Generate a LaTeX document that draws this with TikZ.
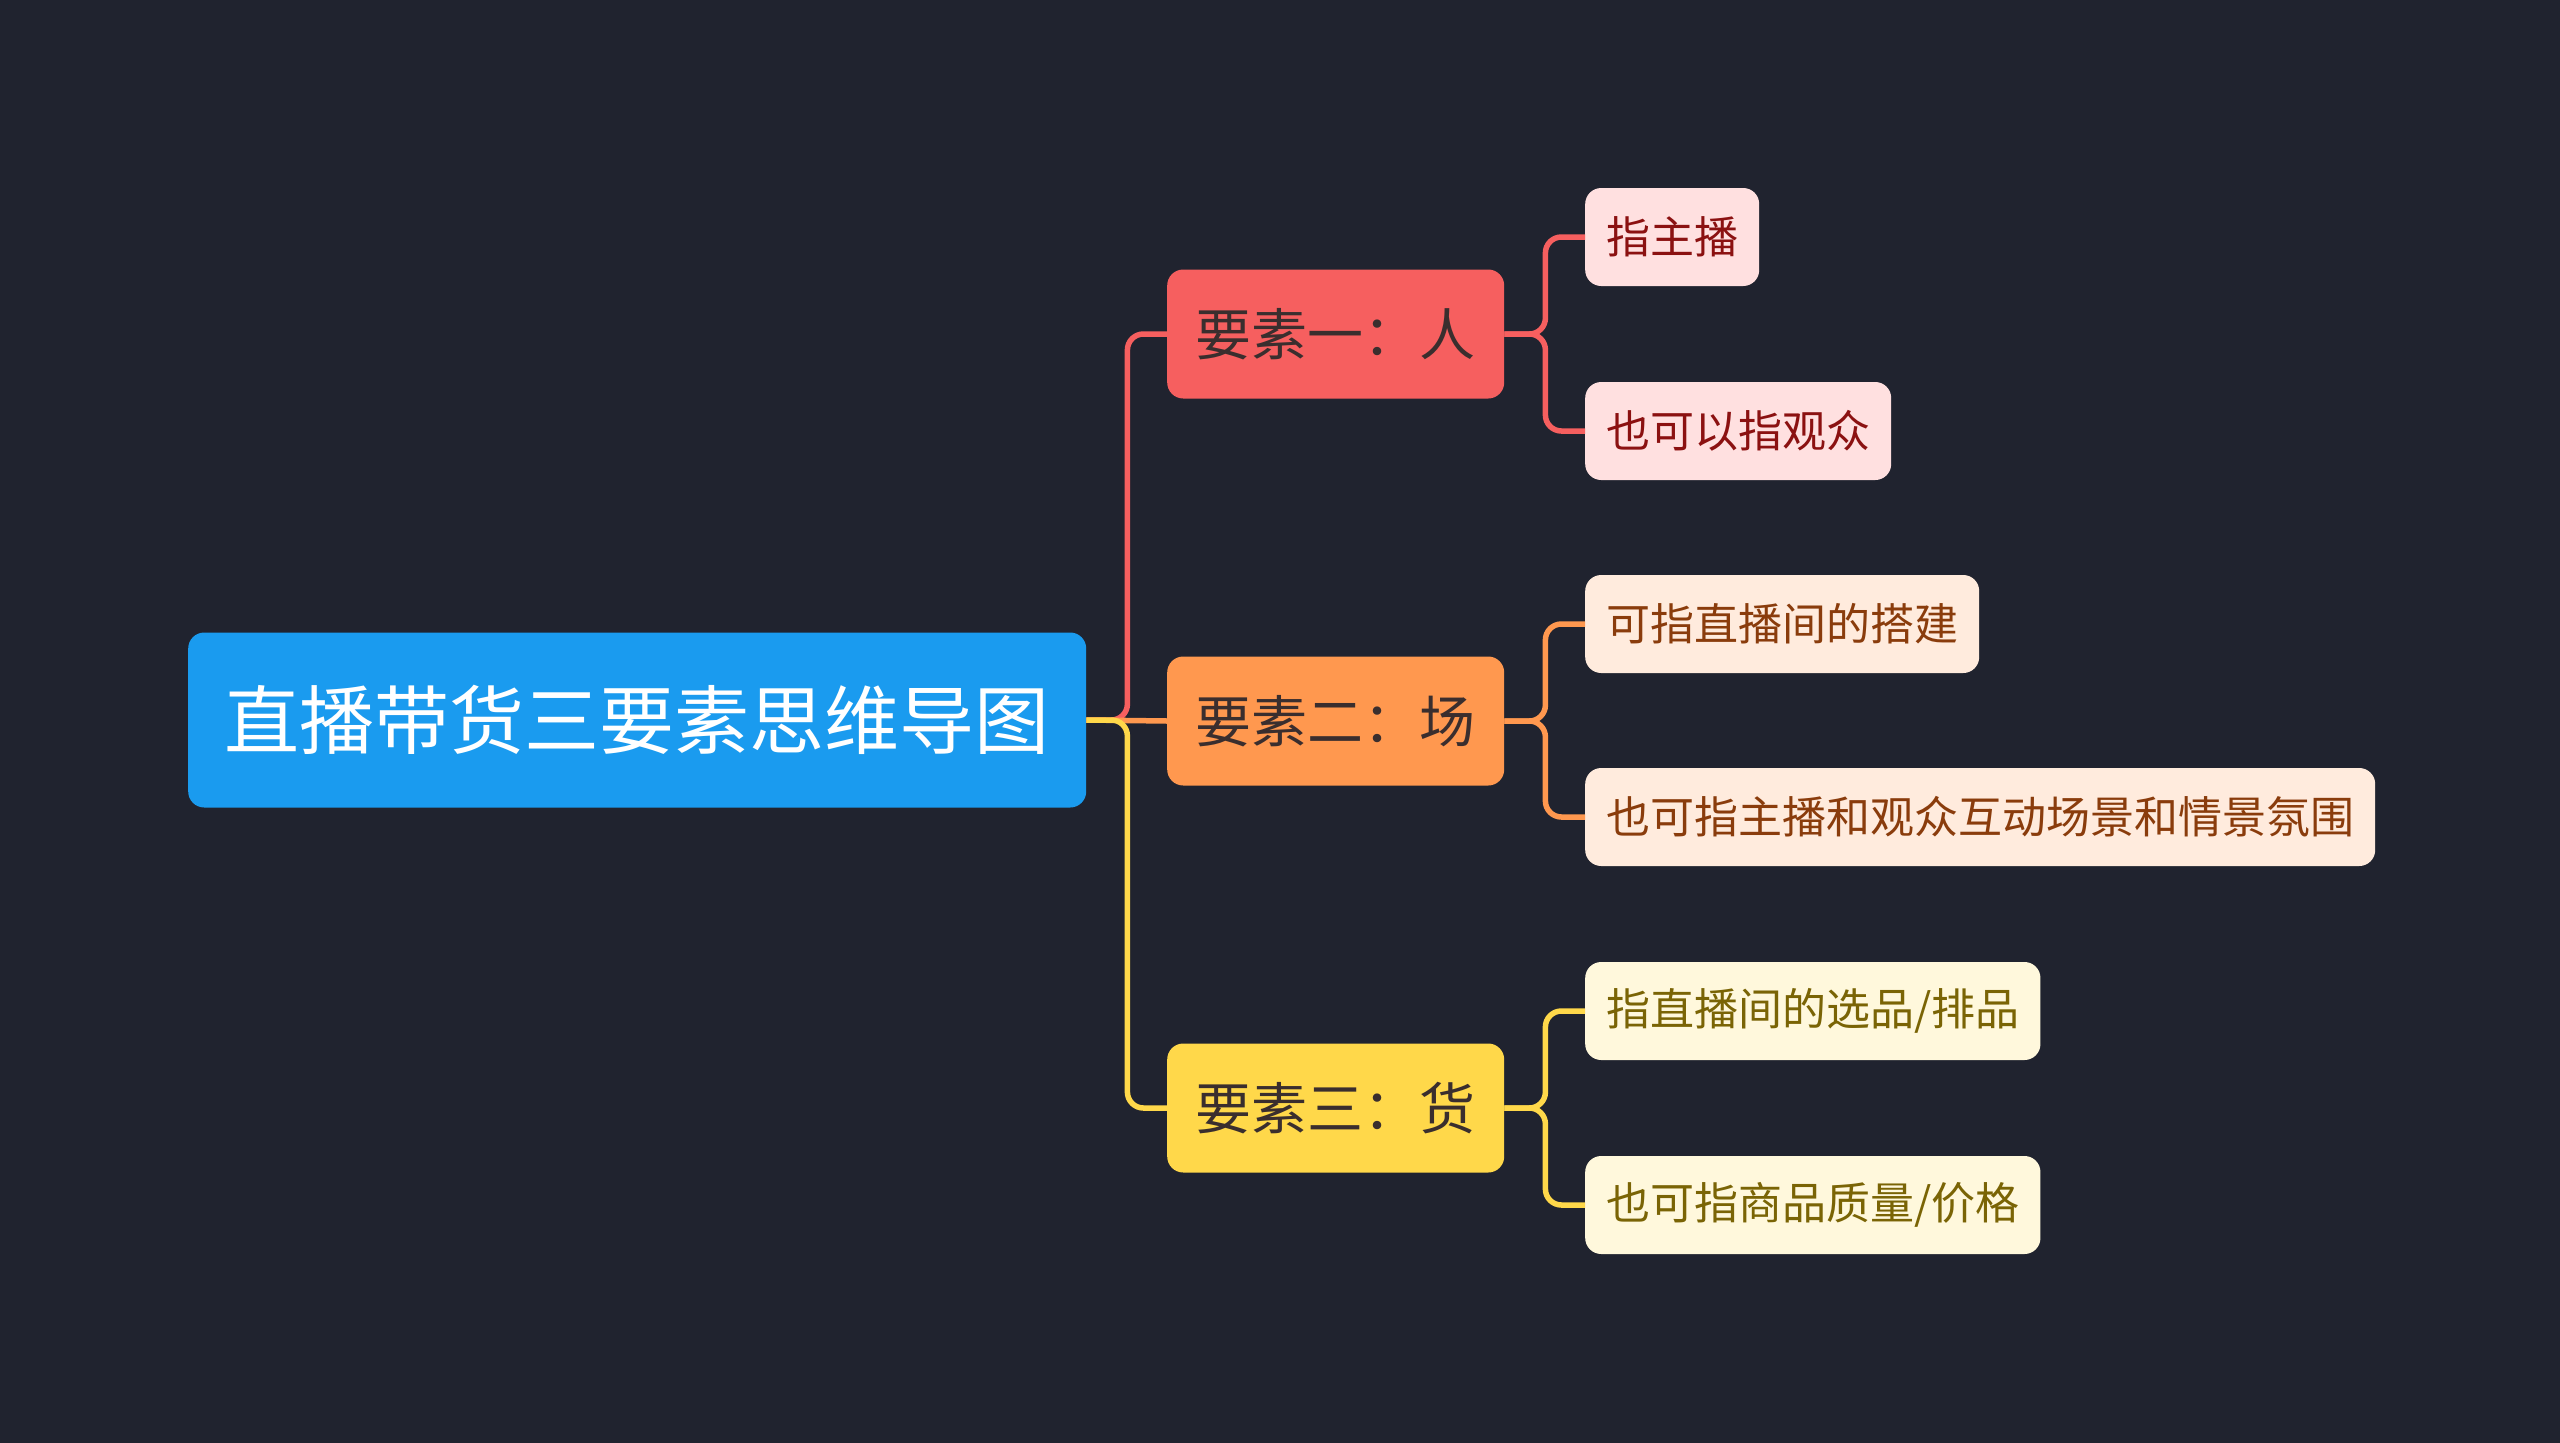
\documentclass[tikz,border=0pt]{standalone}
\usepackage{fontspec}
\setmainfont{Noto Sans CJK SC}
\usetikzlibrary{positioning,calc}
\usepackage{xcolor}

\definecolor{bgdark}{HTML}{20232F}
\definecolor{rootblue}{HTML}{1A9BEF}
\definecolor{redmain}{HTML}{F65F5F}
\definecolor{orangemain}{HTML}{FF984F}
\definecolor{yellowmain}{HTML}{FFD84A}
\definecolor{redsoft}{HTML}{FFE0E0}
\definecolor{orangesoft}{HTML}{FFEBDD}
\definecolor{yellowsoft}{HTML}{FFF8DC}
\definecolor{redtext}{HTML}{8B1111}
\definecolor{orangetext}{HTML}{8A3C0C}
\definecolor{yellowtext}{HTML}{7A6405}
\definecolor{darktext}{HTML}{3A2E2E}

\begin{document}
\begin{tikzpicture}[
  x=1pt, y=-1pt,
  root/.style={fill=rootblue, rounded corners=16pt, text=white, minimum height=175pt, minimum width=898pt, anchor=west, font=\fontsize{75}{80}\selectfont},
  elem/.style={rounded corners=16pt, text=darktext, minimum height=129pt, minimum width=337pt, anchor=west, font=\fontsize{56}{60}\selectfont},
  leaf/.style={rounded corners=16pt, minimum height=98pt, inner xsep=21pt, anchor=west, font=\fontsize{44}{48}\selectfont},
  link/.style={line width=5.5pt, rounded corners=16pt}
]
\fill[bgdark] (0,0) rectangle (2560,1443);
\useasboundingbox (0,0) rectangle (2560,1443);

\node[root] (root) at (188,720) {直播带货三要素思维导图};

\node[elem, fill=redmain] (e1) at (1167,334) {要素一：人};
\node[elem, fill=orangemain] (e2) at (1167,721) {要素二：场};
\node[elem, fill=yellowmain] (e3) at (1167,1108) {要素三：货};

\node[leaf, fill=redsoft, text=redtext] (e1a) at (1585,237) {指主播};
\node[leaf, fill=redsoft, text=redtext] (e1b) at (1585,431) {也可以指观众};
\node[leaf, fill=orangesoft, text=orangetext] (e2a) at (1585,624) {可指直播间的搭建};
\node[leaf, fill=orangesoft, text=orangetext] (e2b) at (1585,817) {也可指主播和观众互动场景和情景氛围};
\node[leaf, fill=yellowsoft, text=yellowtext] (e3a) at (1585,1011) {指直播间的选品/排品};
\node[leaf, fill=yellowsoft, text=yellowtext] (e3b) at (1585,1205) {也可指商品质量/价格};

\draw[link, redmain] (root.east) -- ++(41,0) |- (e1.west);
\draw[link, orangemain] (root.east) -- (e2.west);
\draw[link, yellowmain] (root.east) -- ++(41,0) |- (e3.west);

\draw[link, redmain] (e1.east) -- ++(41,0) |- (e1a.west);
\draw[link, redmain] (e1.east) -- ++(41,0) |- (e1b.west);
\draw[link, orangemain] (e2.east) -- ++(41,0) |- (e2a.west);
\draw[link, orangemain] (e2.east) -- ++(41,0) |- (e2b.west);
\draw[link, yellowmain] (e3.east) -- ++(41,0) |- (e3a.west);
\draw[link, yellowmain] (e3.east) -- ++(41,0) |- (e3b.west);
\end{tikzpicture}
\end{document}
